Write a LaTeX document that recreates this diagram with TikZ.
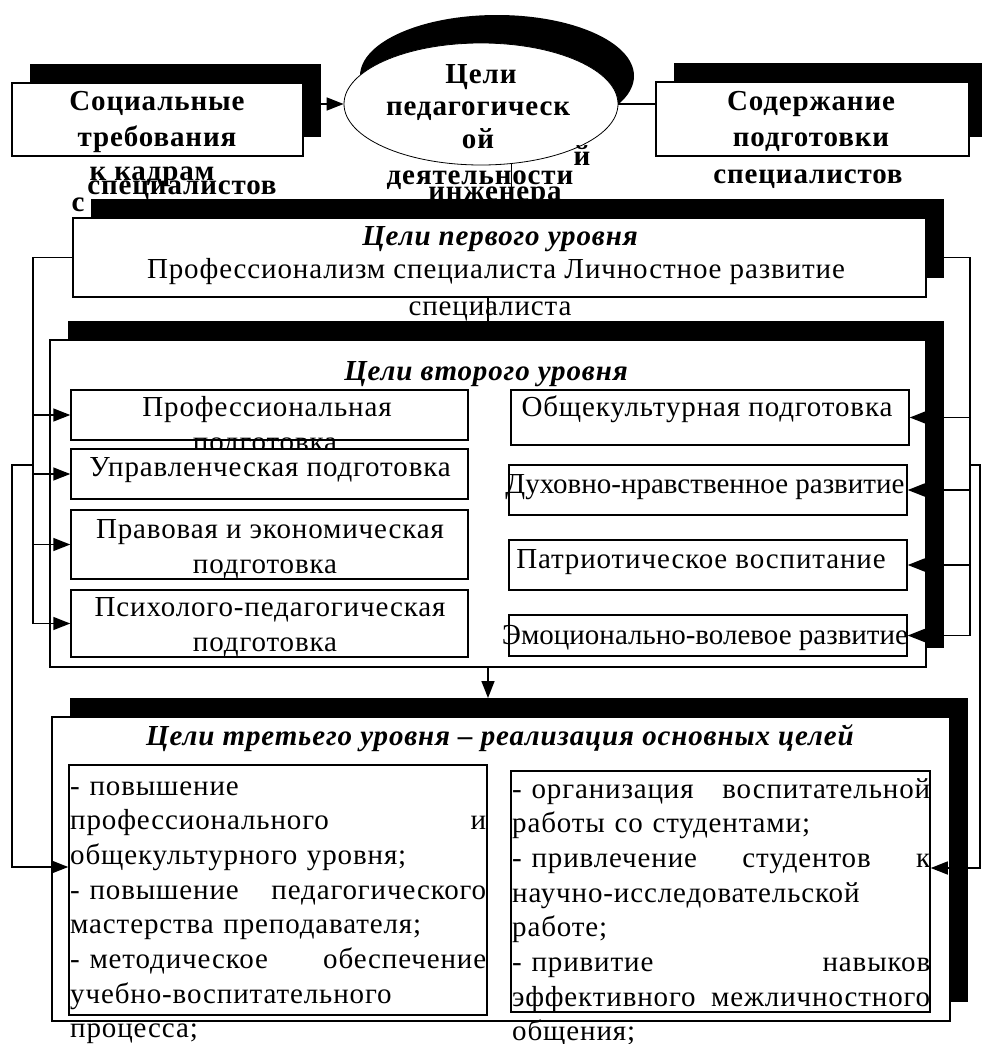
\documentclass[tikz,border=0pt]{standalone}
\usepackage{fontspec}
\setmainfont[LetterSpace=3]{Liberation Serif}
\usetikzlibrary{shapes,arrows.meta,calc,shadows}

\begin{document}
\begin{tikzpicture}[x=1pt,y=-1pt,
	box/.style={draw, line width=1.5pt, fill=white, inner sep=0pt},
	shbox/.style={box, general shadow={fill=black, shadow xshift=18pt, shadow yshift=19pt}},
	txt/.style={inner sep=0pt, anchor=base, font=\fontsize{29}{34}\selectfont},
	ntxt/.style={txt, font=\fontsize{29}{34}\selectfont\addfontfeature{LetterSpace=0}},
	btxt/.style={txt, font=\fontsize{29}{34}\selectfont\bfseries},
	ttl/.style={txt, font=\fontsize{29}{34}\selectfont\bfseries\itshape},
	ln/.style={line width=1.5pt},
	arr/.style={line width=1.5pt, -{Triangle[length=17pt,width=13pt]}}]
	
	\useasboundingbox (0,0) rectangle (982,1044);
	
	% top row: two boxes and the ellipse
	\node[shbox, minimum width=291pt, minimum height=73pt] (soc) at (157.5,119.5) {};
	\node[shbox, minimum width=313pt, minimum height=74pt] (cont) at (812.5,119) {};
	\node[ellipse, draw, line width=0.8pt, fill=white, inner sep=0pt,
		minimum width=274pt, minimum height=122pt,
		general shadow={fill=black, shadow xshift=16pt, shadow yshift=28pt}] (ell) at (481,104) {};
	
	\node[btxt] (soct1) at (157,110) {Социальные};
	\node[btxt] (soct2) at (157,146) {требования};
	\node[btxt] (soct3) at (152,180) {к кадрам};
	\node[btxt] (soct4) at (182,194) {специалистов};
	\node[btxt] (soct5) at (78,211) {с};
	
	\node[btxt] (ellt1) at (481,83) {Цели};
	\node[btxt] (ellt2) at (478,115) {педагогическ};
	\node[btxt] (ellt3) at (478,148) {ой};
	\node[btxt] (ellt4) at (582,165) {й};
	\node[btxt] (ellt5) at (480,184) {деятельности};
	\node[btxt] (ellt6) at (495,200) {инженера};
	
	\node[btxt] (contt1) at (811,110) {Содержание};
	\node[btxt] (contt2) at (811,146) {подготовки};
	\node[btxt] (contt3) at (808,183) {специалистов};
	
	\draw[arr] (ell.west -| soc.east) -- (ell.west);
	\draw[ln] (ell.east) -- (ell.east -| cont.west);
	\draw[ln] (ell.-63) -- (ell.-63 |- 0,218);
	
	% first level
	\node[shbox, minimum width=853pt, minimum height=79pt] (lvlone) at (499.5,257.5) {};
	\node[ttl] (lvlonet1) at (500,245) {Цели первого уровня};
	\node[txt] (lvlonet2) at (496,278) {Профессионализм специалиста Личностное развитие};
	\node[txt] (lvlonet3) at (490,315) {специалиста};
	
	\draw[ln] (lvlone.south -| 488,0) -- (488,340);
	
	% second level
	\node[shbox, minimum width=876pt, minimum height=327pt] (lvltwo) at (488,503.5) {};
	\node[ttl] (lvltwot) at (486,380) {Цели второго уровня};
	
	\node[box, minimum width=397pt, minimum height=50pt] (lp1) at (269.5,415) {};
	\node[txt] (lp1t1) at (267,416) {Профессиональная};
	\node[txt] (lp1t2) at (265,451) {подготовка};
	\node[box, minimum width=397pt, minimum height=50pt] (lp2) at (269.5,474) {};
	\node[txt] (lp2t) at (270,476) {Управленческая подготовка};
	\node[box, minimum width=397pt, minimum height=69pt] (lp3) at (269.5,544.5) {};
	\node[txt] (lp3t1) at (270,538) {Правовая и экономическая};
	\node[txt] (lp3t2) at (265,573) {подготовка};
	\node[box, minimum width=397pt, minimum height=67pt] (lp4) at (269.5,623.5) {};
	\node[txt] (lp4t1) at (270,616) {Психолого-педагогическая};
	\node[txt] (lp4t2) at (265,651) {подготовка};
	
	\node[box, minimum width=398pt, minimum height=55pt] (rp1) at (710,417.5) {};
	\node[txt] (rp1t) at (707,416) {Общекультурная подготовка};
	\node[box, minimum width=398pt, minimum height=50pt] (rp2) at (708,490) {};
	\node[ntxt] (rp2t) at (705,493) {Духовно-нравственное развитие};
	\node[box, minimum width=398pt, minimum height=50pt] (rp3) at (708,565) {};
	\node[txt] (rp3t) at (701,568) {Патриотическое воспитание};
	\node[box, minimum width=398pt, minimum height=41pt] (rp4) at (708,635.5) {};
	\node[ntxt] (rp4t) at (705,644) {Эмоционально-волевое развитие};
	
	% third level
	\draw[arr, shorten >=19pt] (lvltwo.south) -- (lvltwo.south |- 0,717);
	\node[shbox, minimum width=898pt, minimum height=304pt] (lvlthree) at (501,869) {};
	\node[ttl] (lvlthreet) at (500,745) {Цели третьего уровня – реализация основных целей};
	
	\node[box, minimum width=418pt, minimum height=250pt] (lthree) at (278,890) {};
	\node[box, minimum width=419pt, minimum height=241pt] (rthree) at (720.5,891.5) {};
	\node[txt, anchor=base west, text width=416pt, align=left,
		font=\fontsize{29}{34.7}\selectfont] (lthreet) at (70,795) {%
		- повышение\\
		\makebox[416pt][s]{профессионального\hfill и}\\
		общекультурного уровня;\\
		\makebox[416pt][s]{- повышение\hfill педагогического}\\
		мастерства преподавателя;\\
		\makebox[416pt][s]{- методическое\hfill обеспечение}\\
		учебно-воспитательного\\
		процесса;};
	\node[txt, anchor=base west, text width=418pt, align=left,
		font=\fontsize{29}{34.7}\selectfont] (rthreet) at (512,798) {%
		\makebox[418pt][s]{- организация\hfill воспитательной}\\
		работы со студентами;\\
		\makebox[418pt][s]{- привлечение\hfill студентов\hfill к}\\
		научно-исследовательской\\
		работе;\\
		\makebox[418pt][s]{- привитие\hfill навыков}\\
		\makebox[418pt][s]{эффективного\hfill межличностного}\\
		общения;};
	
	% left feedback lines
	\coordinate (lb) at (33,0);
	\coordinate (lb2) at (12,465);
	\draw[ln] (lvlone.west) -- (lvlone.west -| lb) -- (lp4.west -| lb);
	\draw[arr] (lp1.west -| lb) -- (lp1.west);
	\draw[arr] (lp2.west -| lb) -- (lp2.west);
	\draw[arr] (lp3.west -| lb) -- (lp3.west);
	\draw[arr] (lp4.west -| lb) -- (lp4.west);
	\draw[arr] (lb2 -| lb) -- (lb2) |- ([yshift=23pt]lthree.west);
	
	% right feedback lines
	\coordinate (rb) at (970,0);
	\coordinate (rb2) at (980,465);
	\draw[ln] (lvlone.east) -- (lvlone.east -| rb) -- (rp4.east -| rb);
	\draw[arr] (rp1.east -| rb) -- (rp1.east);
	\draw[arr] (rp2.east -| rb) -- (rp2.east);
	\draw[arr] (rp3.east -| rb) -- (rp3.east);
	\draw[arr] (rp4.east -| rb) -- (rp4.east);
	\draw[arr] (rb2 -| rb) -- (rb2) |- ([yshift=23.5pt]rthree.east);
\end{tikzpicture}
\end{document}
